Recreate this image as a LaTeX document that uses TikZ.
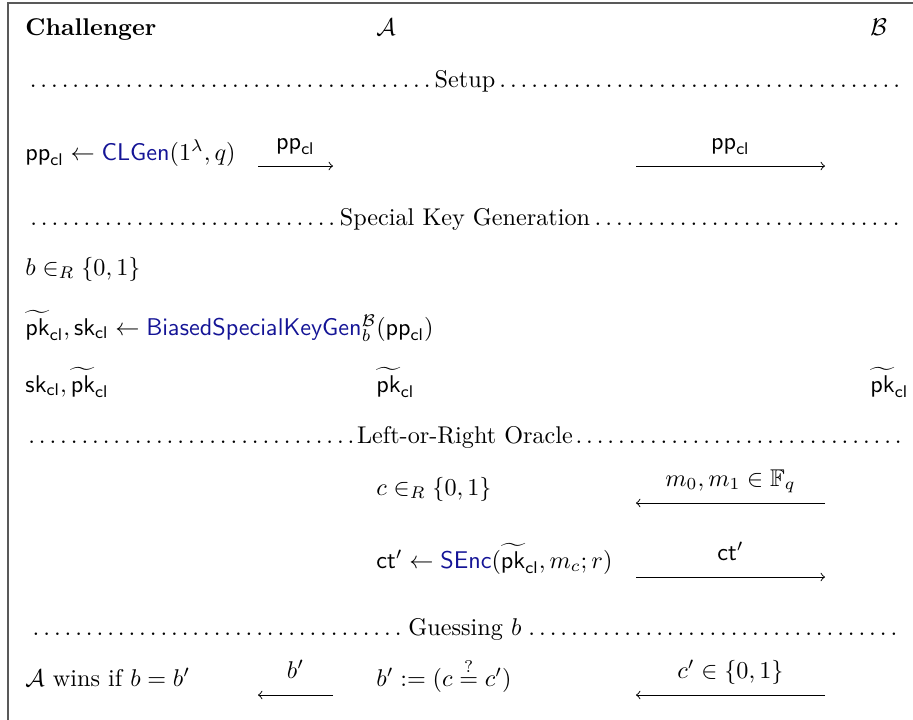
\documentclass[tikz,border=0pt]{standalone}
\usepackage{amsmath,amssymb}
\usepackage{xcolor}
\usepackage{tikz}
\usetikzlibrary{positioning}

\definecolor{algblue}{RGB}{20,20,150}
\newcommand{\cl}{\mathsf{cl}}
\newcommand{\algo}[1]{\textcolor{algblue}{\mathsf{#1}}}
\newcommand{\pktl}{\widetilde{\mathsf{pk}}_{\cl}}
\newcommand{\phaserow}[1]{\makebox[363pt]{\dotfill#1\dotfill}}

\begin{document}
\begin{tikzpicture}[
    x=0.4132pt, y=-0.4132pt,
    party/.style={anchor=base west, inner sep=0pt},
    phase/.style={anchor=base, inner sep=0pt},
    msg/.style={->, line width=0.4pt},
    lbl/.style={midway, anchor=base, yshift=7pt, inner sep=0pt},
]
\useasboundingbox (0,0) rectangle (913,720);

% frame
\draw[black!65, line width=0.7pt] (8,720) -- (8,3) -- (913,3);

% parties
\node[party] (chal) at (25,35) {\textbf{Challenger}};
\node[party] (adv) at (376,35) {$\mathcal{A}$};
\node[party] (bob) at (870,35) {$\mathcal{B}$};

% Setup
\node[phase] (setup) at (465,87) {\phaserow{Setup}};
\node[party] (gen) at (25,160) {$\mathsf{pp}_{\cl} \leftarrow \algo{CLGen}(1^\lambda, q)$};
\coordinate (s1) at (258,166);
\coordinate (e1) at (333,166);
\coordinate (s2) at (636,166);
\coordinate (e2) at (825,166);
\draw[msg] (s1) -- node[lbl] {$\mathsf{pp}_{\cl}$} (e1);
\draw[msg] (s2) -- node[lbl] {$\mathsf{pp}_{\cl}$} (e2);

% Special key generation
\node[phase] (keygen) at (465,225) {\phaserow{Special Key Generation}};
\node[party] (bit) at (25,275) {$b \in_R \{0,1\}$};
\node[party] (skg) at (25,335) {$\pktl, \mathsf{sk}_{\cl} \leftarrow \algo{BiasedSpecialKeyGen}_b^{\mathcal{B}}(\mathsf{pp}_{\cl})$};
\node[party] (keyc) at (25,392) {$\mathsf{sk}_{\cl}, \pktl$};
\node[party] (keya) at (376,392) {$\pktl$};
\node[party] (keyb) at (870,392) {$\pktl$};

% Left-or-Right oracle
\node[phase] (oracle) at (465,443) {\phaserow{Left-or-Right Oracle}};
\node[party] (coin) at (376,495) {$c \in_R \{0,1\}$};
\coordinate (s3) at (825,503);
\coordinate (e3) at (636,503);
\draw[msg] (s3) -- node[lbl] {$m_0, m_1 \in \mathbb{F}_q$} (e3);
\node[party] (enc) at (376,568) {$\mathsf{ct}' \leftarrow \algo{SEnc}(\pktl, m_c; r)$};
\coordinate (s4) at (636,577);
\coordinate (e4) at (825,577);
\draw[msg] (s4) -- node[lbl] {$\mathsf{ct}'$} (e4);

% Guessing
\node[phase] (guess) at (465,635) {\phaserow{Guessing $b$}};
\node[party] (win) at (25,686) {$\mathcal{A}$ wins if $b = b'$};
\node[party] (ans) at (376,686) {$b' := (c \stackrel{?}{=} c')$};
\coordinate (s5) at (333,695);
\coordinate (e5) at (258,695);
\coordinate (s6) at (825,695);
\coordinate (e6) at (636,695);
\draw[msg] (s5) -- node[lbl] {$b'$} (e5);
\draw[msg] (s6) -- node[lbl] {$c' \in \{0,1\}$} (e6);

\end{tikzpicture}
\end{document}
